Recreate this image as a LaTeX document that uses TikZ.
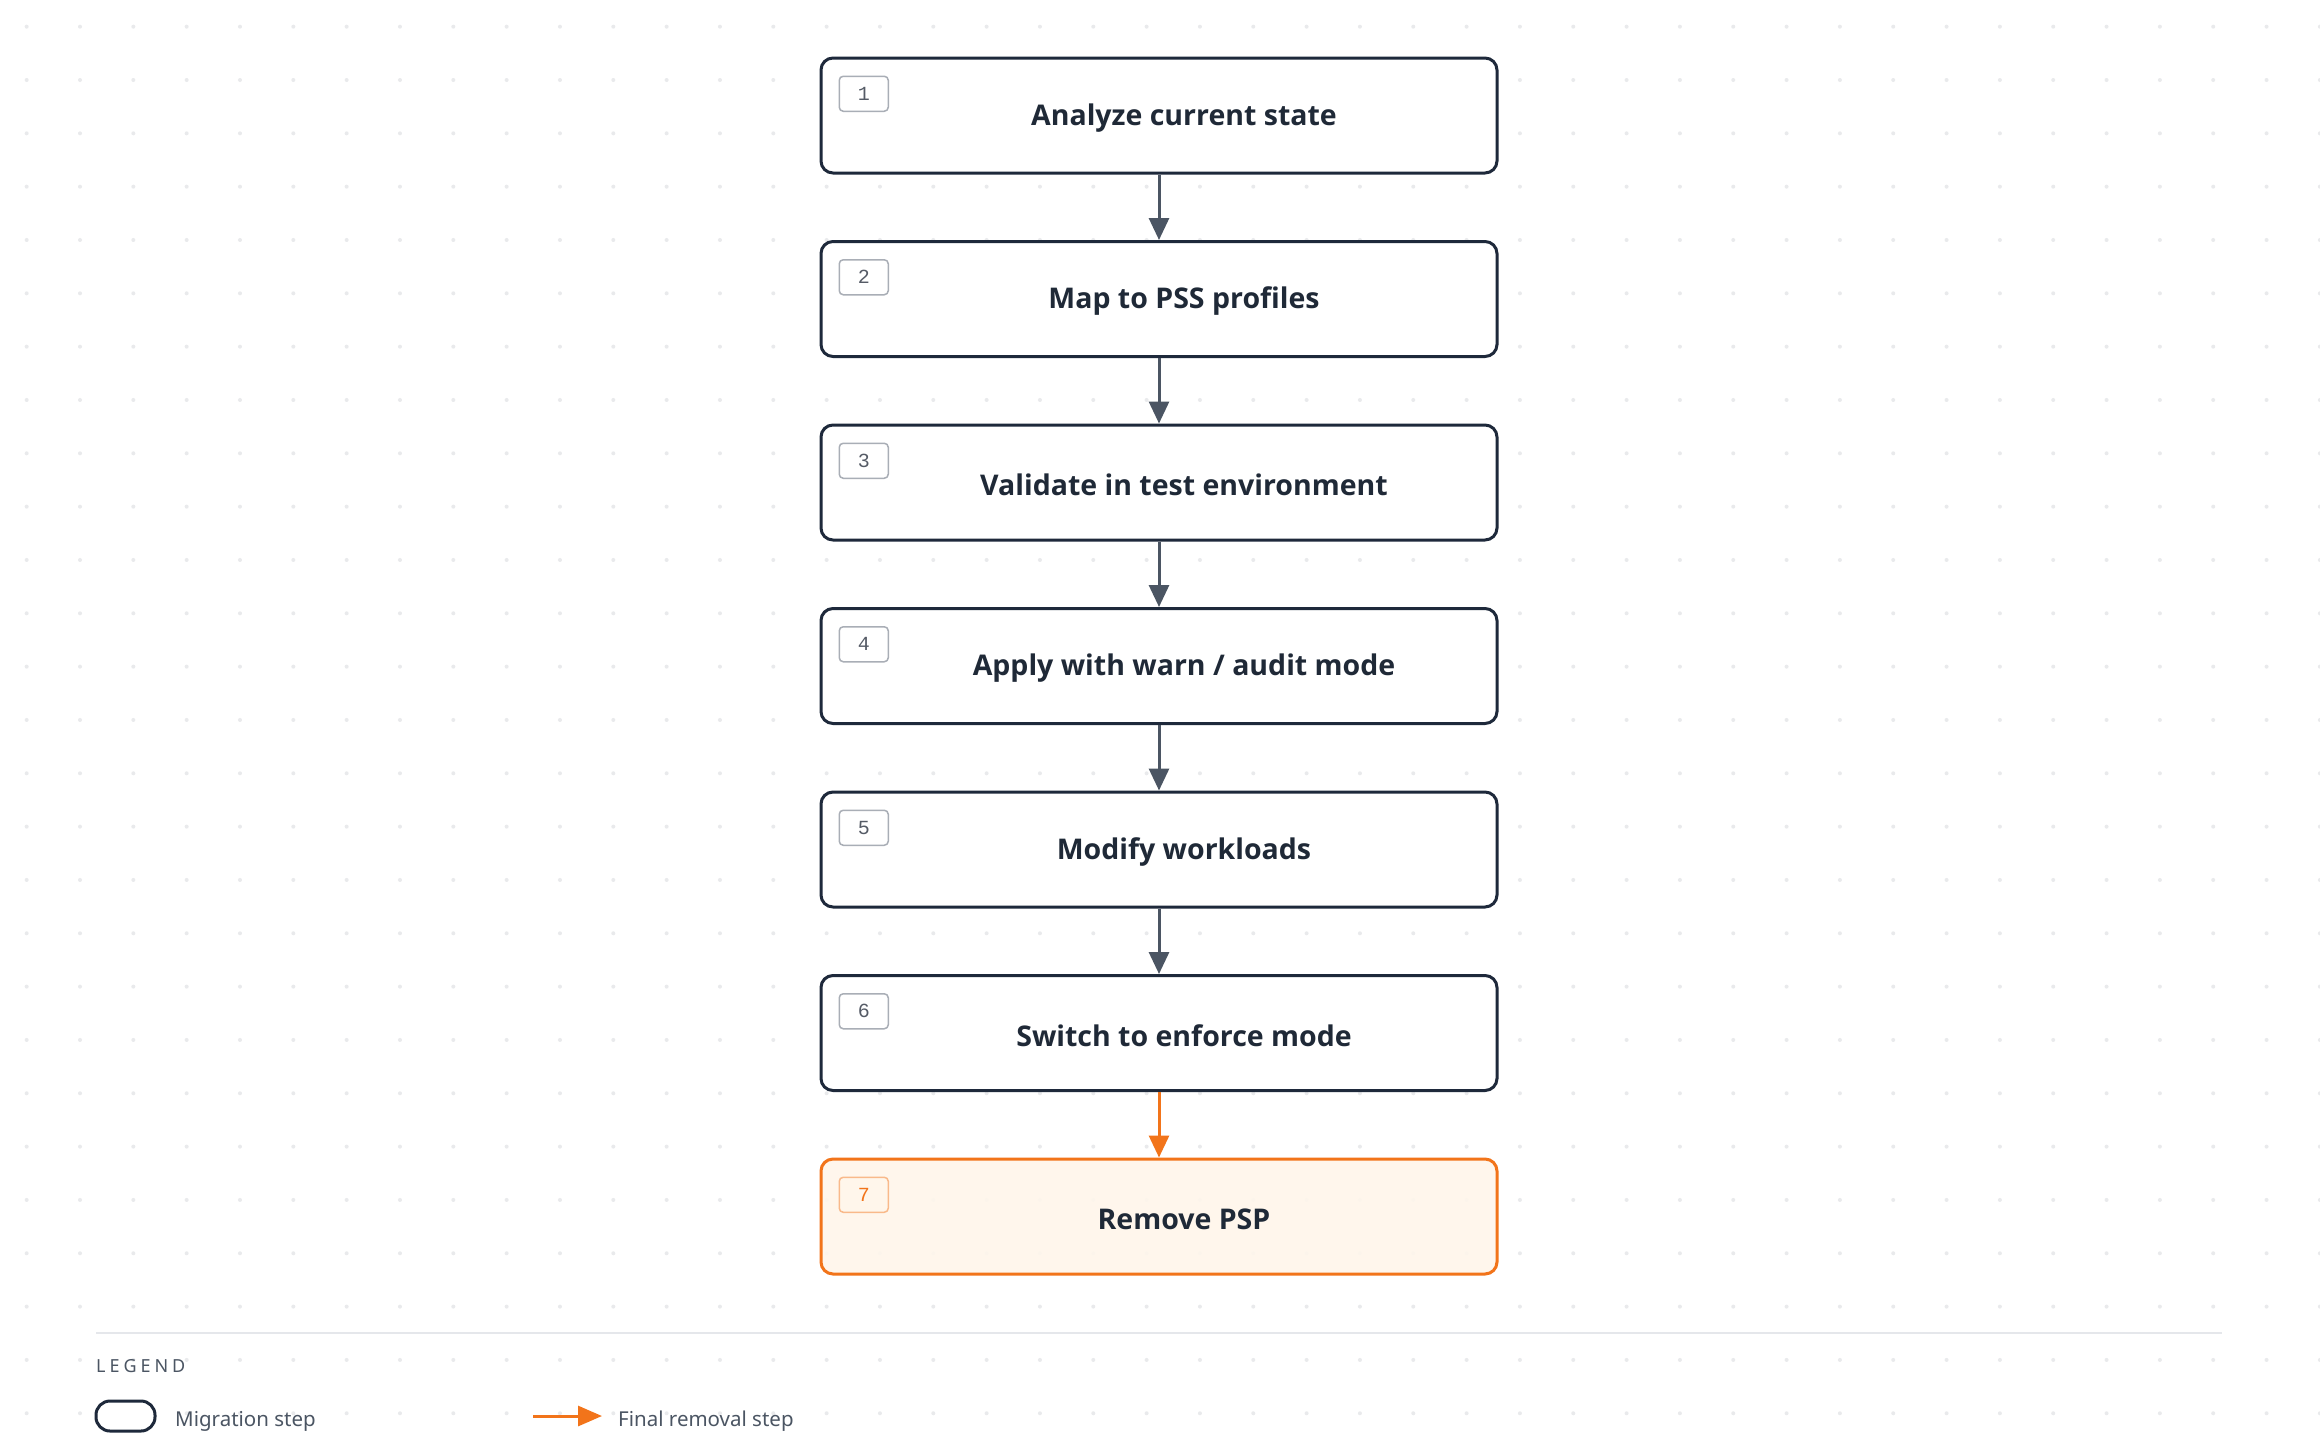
\documentclass[tikz,border=0pt]{standalone}
\usepackage{fontspec}
\setmainfont{Noto Sans}
\newfontfamily\stepfont{Open Sans}
\setmonofont{Liberation Mono}
\usetikzlibrary{arrows.meta}
\definecolor{ink}{HTML}{1E293B}
\definecolor{txt}{HTML}{1F2937}
\definecolor{arr}{HTML}{4B5563}
\definecolor{badgetxt}{HTML}{555B66}
\definecolor{org}{HTML}{F2741A}
\definecolor{orglight}{HTML}{F9B98A}
\definecolor{orgfill}{HTML}{FFF6EB}
\definecolor{dotc}{HTML}{E9EAEC}
\definecolor{badgec}{HTML}{A9AEB6}
\definecolor{sepc}{HTML}{E5E7EB}
\definecolor{legtxt}{HTML}{4B5563}
\begin{document}
\begin{tikzpicture}[x=1pt,y=-1pt,
  stepbox/.style={draw=ink, line width=3pt, rounded corners=12pt, fill=white,
    minimum width=676pt, minimum height=115pt, inner sep=0pt},
  finalbox/.style={stepbox, draw=org, fill=orgfill, fill opacity=0.9},
  steptext/.style={text=txt, font=\stepfont\bfseries\fontsize{28.5}{34}\selectfont, inner sep=0pt},
  badge/.style={draw=badgec, line width=1.5pt, rounded corners=4pt, fill=white,
    minimum width=49pt, minimum height=35pt, inner sep=0pt,
    font=\ttfamily\fontsize{20}{22}\selectfont, text=badgetxt,
    anchor=north west, xshift=19pt, yshift=-19pt},
  finalbadge/.style={badge, draw=orglight, fill=orgfill, text=org},
  conn/.style={draw=arr, line width=3pt, -{Triangle[width=20pt,length=22pt]}},
  finalconn/.style={conn, draw=org},
  legtext/.style={text=legtxt, font=\fontsize{20.5}{25}\selectfont, anchor=west, inner sep=0pt}
]
\useasboundingbox (0,0) rectangle (2320,1452);
\fill[white] (0,0) rectangle (2320,1452);
\foreach \i in {0,...,43}{
  \foreach \j in {0,...,26}{
    \fill[dotc] (26.67+53.33*\i, 26.67+53.33*\j) circle (2);
  }
}
% steps
\node[stepbox] (s1) at (1159,115.5) {};
\node[stepbox] (s2) at (1159,299) {};
\node[stepbox] (s3) at (1159,482.5) {};
\node[stepbox] (s4) at (1159,666) {};
\node[stepbox] (s5) at (1159,849.5) {};
\node[stepbox] (s6) at (1159,1033) {};
\node[finalbox] (s7) at (1159,1216.5) {};
\node[steptext] (t1) at (1184,118) {Analyze current state};
\node[steptext] (t2) at (1184,301.5) {Map to PSS profiles};
\node[steptext] (t3) at (1184,485) {Validate in test environment};
\node[steptext] (t4) at (1184,668.5) {Apply with warn / audit mode};
\node[steptext] (t5) at (1184,852) {Modify workloads};
\node[steptext] (t6) at (1184,1035.5) {Switch to enforce mode};
\node[steptext] (t7) at (1184,1219) {Remove PSP};
\node[badge] (b1) at (s1.north west) {1};
\node[badge] (b2) at (s2.north west) {2};
\node[badge] (b3) at (s3.north west) {3};
\node[badge] (b4) at (s4.north west) {4};
\node[badge] (b5) at (s5.north west) {5};
\node[badge] (b6) at (s6.north west) {6};
\node[finalbadge] (b7) at (s7.north west) {7};
% connectors
\draw[conn] (s1) -- (s2);
\draw[conn] (s2) -- (s3);
\draw[conn] (s3) -- (s4);
\draw[conn] (s4) -- (s5);
\draw[conn] (s5) -- (s6);
\draw[finalconn] (s6) -- (s7);
% legend
\draw[sepc, line width=2pt] (96,1333) -- (2222,1333);
\node[text=legtxt, anchor=west, inner sep=0pt,
  font=\addfontfeature{LetterSpace=22}\fontsize{18}{22}\selectfont] (lg) at (96,1366) {LEGEND};
\node[draw=ink, line width=3pt, rounded corners=14pt, fill=white,
  minimum width=59pt, minimum height=30pt, inner sep=0pt] (lbox) at (125.5,1416) {};
\node[legtext] (lt1) at (175,1421) {Migration step};
\coordinate (la) at (533,1416);
\coordinate (lb) at (602,1416);
\draw[draw=org, line width=3pt, -{Triangle[width=20pt,length=24pt]}] (la) -- (lb);
\node[legtext] (lt2) at (618,1421) {Final removal step};
\end{tikzpicture}
\end{document}
